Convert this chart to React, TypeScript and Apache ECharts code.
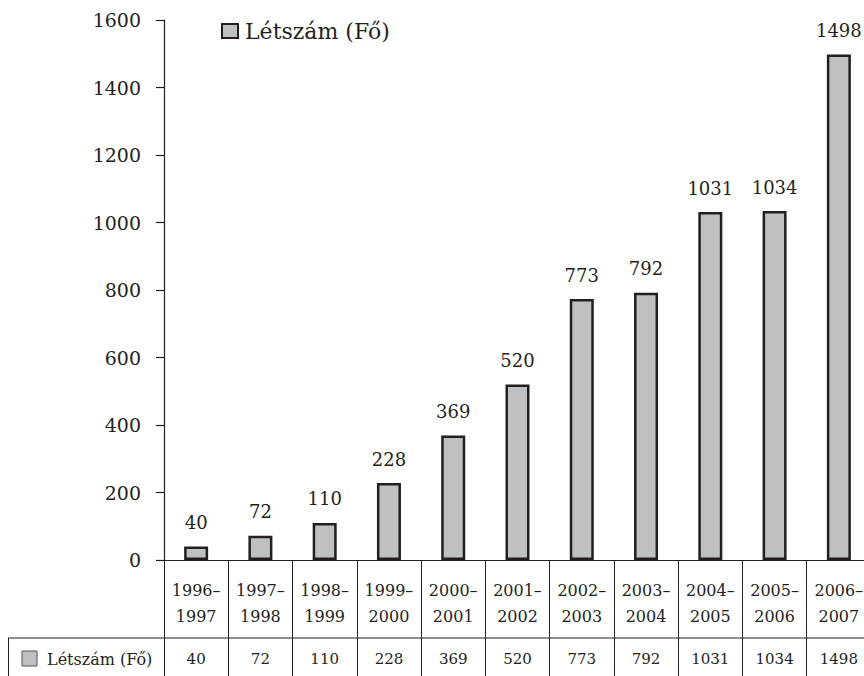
import React, { useEffect, useRef } from "react";
import * as echarts from "echarts";

const categories = [
  "1996–\n1997",
  "1997–\n1998",
  "1998–\n1999",
  "1999–\n2000",
  "2000–\n2001",
  "2001–\n2002",
  "2002–\n2003",
  "2003–\n2004",
  "2004–\n2005",
  "2005–\n2006",
  "2006–\n2007",
];
const values = [40, 72, 110, 228, 369, 520, 773, 792, 1031, 1034, 1498];
const seriesName = "Létszám (Fő)";
const yMin = 0;
const yMax = 1600;
const yInterval = 200;

const FONT = "DejaVu Serif";
const INK = "#231f20";
const BAR = "#bfc0c4";

export default function App() {
  const ref = useRef<HTMLDivElement>(null);
  useEffect(() => {
    if (!ref.current) return;
    const chart = echarts.init(ref.current, undefined, { renderer: "svg" });
    chart.setOption({
      animation: false,
      backgroundColor: "#ffffff",
      textStyle: { fontFamily: FONT, color: INK },
      grid: { left: 164, right: 9, top: 20, bottom: 116 },
      legend: {
        left: 216,
        top: 15,
        icon: "rect",
        itemWidth: 16,
        itemHeight: 14,
        itemStyle: { color: BAR, borderColor: INK, borderWidth: 2 },
        textStyle: { fontFamily: FONT, fontSize: 22, color: INK, padding: [0, 0, 0, 2] },
        data: [seriesName],
      },
      xAxis: [
        {
          type: "category",
          data: categories,
          position: "bottom",
          boundaryGap: true,
          axisLine: { show: true, lineStyle: { color: INK, width: 1.2 } },
          axisTick: { show: true, length: 116, lineStyle: { color: INK, width: 1 } },
          axisLabel: {
            interval: 0,
            margin: 17,
            fontFamily: FONT,
            fontSize: 16,
            lineHeight: 26,
            color: INK,
            verticalAlign: "top",
          },
        },
        {
          type: "category",
          data: values.map(String),
          position: "bottom",
          offset: 78,
          boundaryGap: true,
          axisLine: { show: false },
          axisTick: { show: false },
          axisLabel: {
            interval: 0,
            margin: 13,
            fontFamily: FONT,
            fontSize: 15,
            lineHeight: 16,
            color: INK,
            verticalAlign: "top",
          },
        },
      ],
      yAxis: {
        type: "value",
        min: yMin,
        max: yMax,
        interval: yInterval,
        axisLine: { show: true, lineStyle: { color: INK, width: 1.2 } },
        axisTick: { show: true, length: 8, lineStyle: { color: INK, width: 1.2 } },
        splitLine: { show: false },
        axisLabel: {
          margin: 23,
          fontFamily: FONT,
          fontSize: 19,
          color: INK,
          formatter: (v: number) => String(v),
        },
      },
      series: [
        {
          name: seriesName,
          type: "bar",
          data: values,
          barWidth: 24,
          itemStyle: { color: BAR, borderColor: INK, borderWidth: 2.5 },
          label: {
            show: true,
            position: "top",
            distance: 15,
            fontFamily: FONT,
            fontSize: 18,
            color: INK,
          },
        },
      ],
      graphic: [
        {
          type: "line",
          shape: { x1: 8, y1: 638, x2: 880, y2: 638 },
          style: { stroke: INK, lineWidth: 1 },
        },
        {
          type: "line",
          shape: { x1: 8.5, y1: 638, x2: 8.5, y2: 676 },
          style: { stroke: INK, lineWidth: 1 },
        },
        {
          type: "rect",
          shape: { x: 22, y: 651, width: 15, height: 15 },
          style: { fill: BAR, stroke: "#555555", lineWidth: 1 },
        },
        {
          type: "text",
          x: 47,
          y: 659,
          style: {
            text: seriesName,
            fontFamily: FONT,
            fontSize: 16,
            fill: INK,
            verticalAlign: "middle",
            align: "left",
          },
        },
      ],
    });
    return () => chart.dispose();
  }, []);
  return (
    <div
      style={{
        position: "fixed",
        left: 0,
        top: 0,
        width: 864,
        height: 676,
        overflow: "hidden",
        background: "#fff",
      }}
    >
      <div ref={ref} style={{ width: 880, height: 676 }} />
    </div>
  );
}
